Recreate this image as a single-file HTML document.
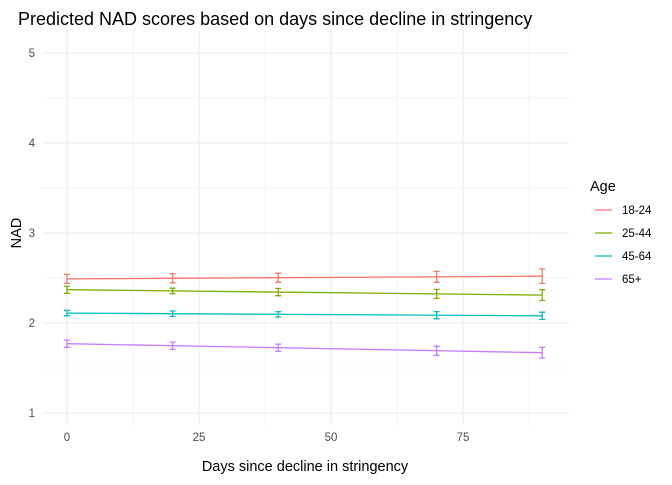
<!DOCTYPE html>
<html><head><meta charset="utf-8"><style>
body{margin:0;background:#fff;font-family:"Liberation Sans",sans-serif}
</style></head><body>
<svg id="c" width="672" height="480" xmlns="http://www.w3.org/2000/svg" style="font-family:'Liberation Sans',sans-serif">
<text x="18" y="25" font-size="18" fill="#000">Predicted NAD scores based on days since decline in stringency</text>
<g id="grid"></g><g id="series"></g><g id="axes"></g>
<text x="305" y="471" font-size="14.5" text-anchor="middle">Days since decline in stringency</text>
<text transform="translate(21,233) rotate(-90)" font-size="14.5" text-anchor="middle">NAD</text>
<g id="legend"><text x="590" y="191" font-size="14.5">Age</text></g>
</svg>
<script>
const groups=["18-24","25-44","45-64","65+"];
const colors=["#F8766D","#7CAE00","#00BFC4","#C77CFF"];
const startVals=[2.49,2.37,2.11,1.77];
const endVals=[2.52,2.31,2.08,1.67];
const ebDays=[0,20,40,70,90];
const lastDay=90;
const ebHalf=[[0.05,0.05,0.05,0.06,0.08],[0.04,0.03,0.04,0.05,0.06],[0.03,0.03,0.03,0.04,0.04],[0.04,0.04,0.04,0.05,0.06]];
const xTicks=[0,25,50,75];
const yTicks=[1,2,3,4,5];
const NS="http://www.w3.org/2000/svg";
const X=d=>67+d*5.28;
const Y=v=>413-(v-1)*90;
function mk(p,t,a){const e=document.createElementNS(NS,t);for(const k in a)e.setAttribute(k,a[k]);document.getElementById(p).appendChild(e);return e;}
for(let d=-12.5;d<=90;d+=12.5){if(d<-4.5)continue;const e=mk('grid','line',{x1:X(d),x2:X(d),y1:30,y2:425,stroke:'#ebebeb','stroke-width':xTicks.includes(d)?1.1:0.5});

}
for(let v=1;v<=5;v+=0.5){const e=mk('grid','line',{x1:43,x2:569,y1:Y(v),y2:Y(v),stroke:'#ebebeb','stroke-width':Number.isInteger(v)?1.1:0.5});

}
xTicks.forEach(t=>{const e=mk('axes','text',{x:X(t),y:441,'font-size':11.5,fill:'#4d4d4d','text-anchor':'middle'});e.textContent=t;

});
yTicks.forEach(t=>{const e=mk('axes','text',{x:35,y:Y(t)+4,'font-size':11.5,fill:'#4d4d4d','text-anchor':'end'});e.textContent=t;

});
groups.forEach((g,i)=>{
 const l=mk('series','line',{x1:X(0),x2:X(lastDay),y1:Y(startVals[i]),y2:Y(endVals[i]),stroke:colors[i],'stroke-width':1.3});
 
 
 ebDays.forEach((d,j)=>{const m=startVals[i]+(endVals[i]-startVals[i])*d/lastDay,h=ebHalf[i][j];
  const p=mk('series','path',{d:`M${X(d)-3},${Y(m+h)}H${X(d)+3}M${X(d)},${Y(m+h)}V${Y(m-h)}M${X(d)-3},${Y(m-h)}H${X(d)+3}`,stroke:colors[i],'stroke-width':1.3,fill:'none'});
  
  });
 const y=210+i*23;
 const k=mk('legend','line',{x1:595,x2:612,y1:y,y2:y,stroke:colors[i],'stroke-width':1.3});
 
 
 const t=mk('legend','text',{x:622,y:y+4,'font-size':11.5,fill:'#000'});t.textContent=g;
 
 
});
</script>
</body></html>
